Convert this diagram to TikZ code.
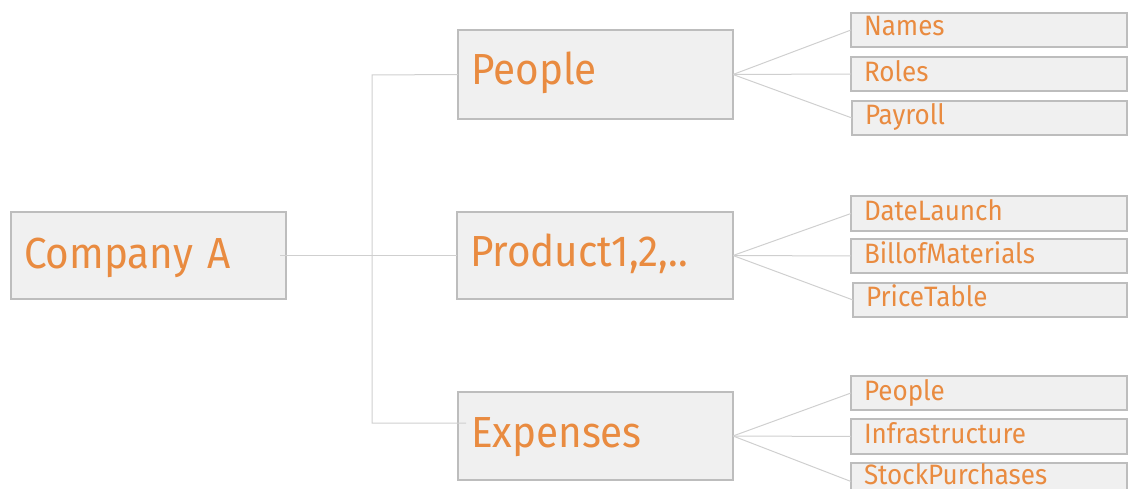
\documentclass[tikz,border=0pt]{standalone}
\usepackage{fontspec}
\setmainfont{Fira Sans}
\newfontfamily\dinfont{Fira Sans}[FakeStretch=0.93]
\definecolor{boxfill}{HTML}{F0F0F0}
\definecolor{boxline}{HTML}{BDBDBD}
\definecolor{linec}{HTML}{CFCFCF}
\definecolor{orangetext}{HTML}{E98B40}
\tikzset{
  bigbox/.style={draw=boxline, fill=boxfill, line width=2pt, anchor=north west,
    inner xsep=13pt, inner ysep=0pt, outer sep=0pt, text width=249pt, align=left,
    font=\dinfont\fontsize{43.5}{50}\selectfont, text=orangetext},
  smallbox/.style={draw=boxline, fill=boxfill, line width=2pt, anchor=north west,
    inner xsep=13pt, inner ysep=0pt, outer sep=0pt, text width=250pt, align=left,
    font=\dinfont\fontsize{28}{32}\selectfont, text=orangetext},
  link/.style={draw=linec, line width=1pt}
}
\begin{document}
\begin{tikzpicture}[x=1pt,y=-1pt]
\useasboundingbox (0,0) rectangle (1128,489);
% main boxes
\node[bigbox, text height=57pt, text depth=30pt] (company) at (11,212) {Company A};
\node[bigbox, text height=55pt, text depth=34pt] (people) at (458,30) {People};
\node[bigbox, text width=250pt, text height=55pt, text depth=32pt] (product) at (457,212) {Product1,2,..};
\node[bigbox, text height=55pt, text depth=33pt] (expenses) at (458,392) {Expenses};
% children of People
\node[smallbox, text height=23pt, text depth=11pt] (names) at (851,13) {Names};
\node[smallbox, text height=25pt, text depth=9pt] (roles) at (851,57) {Roles};
\node[smallbox, text width=249pt, text height=24pt, text depth=10pt] (payroll) at (852,101) {Payroll};
% children of Product
\node[smallbox, text height=25pt, text depth=10pt] (datelaunch) at (851,196) {DateLaunch};
\node[smallbox, text height=25pt, text depth=9pt] (bom) at (851,239) {BillofMaterials};
\node[smallbox, text width=248pt, text height=24pt, text depth=10pt] (pricetable) at (853,283) {PriceTable};
% children of Expenses
\node[smallbox, text height=24pt, text depth=10pt] (epeople) at (851,376) {People};
\node[smallbox, text height=24pt, text depth=11pt] (infra) at (851,419) {Infrastructure};
\node[smallbox, text height=21pt, text depth=6pt] (stock) at (851,463) {StockPurchases};
% connectors
\coordinate (trunk) at (372,75);
\draw[link] ([xshift=-6pt]company.east) -- (product.west);
\draw[link] (people.west) -- (trunk) |- ([xshift=8pt,yshift=13pt]expenses.west);
\foreach \c in {names,roles,payroll}{\draw[link] (people.east) -- (\c.west);}
\foreach \c in {datelaunch,bom,pricetable}{\draw[link] (product.east) -- (\c.west);}
\foreach \c in {epeople,infra}{\draw[link] (expenses.east) -- (\c.west);}
\draw[link] (expenses.east) -- ([yshift=-5pt]stock.west);
\end{tikzpicture}
\end{document}
